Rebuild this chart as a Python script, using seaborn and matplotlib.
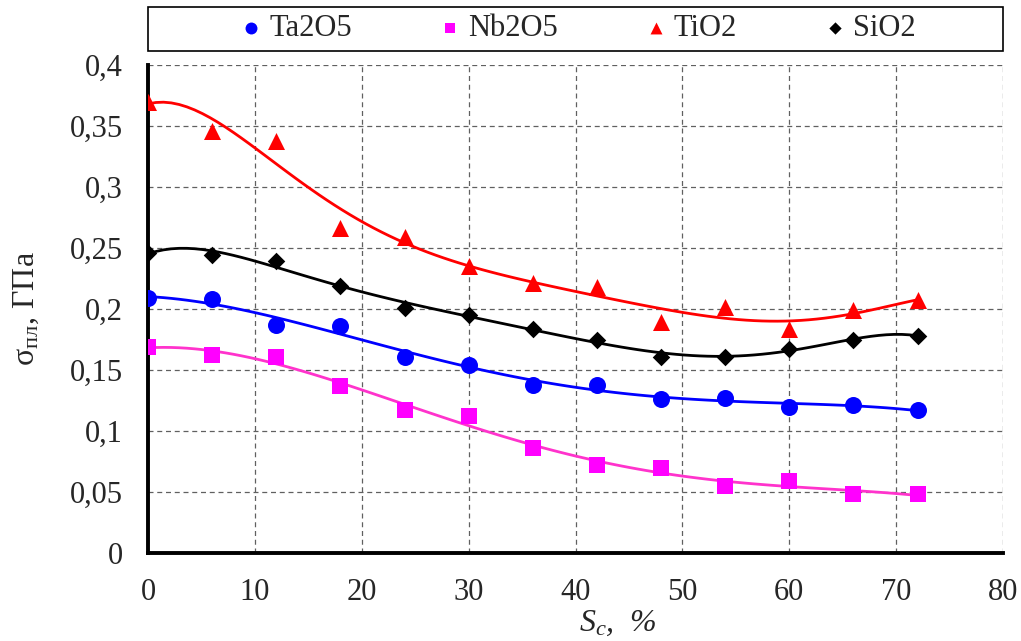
import numpy as np
import pandas as pd
import seaborn as sns
import matplotlib.pyplot as plt
from matplotlib.patches import Rectangle

sc = [0, 6, 12, 18, 24, 30, 36, 42, 48, 54, 60, 66, 72]
ta2o5 = [0.209, 0.208, 0.187, 0.186, 0.161, 0.154, 0.138, 0.138, 0.126, 0.127, 0.120, 0.121, 0.117]
nb2o5 = [0.169, 0.162, 0.161, 0.137, 0.117, 0.112, 0.086, 0.072, 0.070, 0.055, 0.059, 0.048, 0.048]
tio2 = [0.370, 0.346, 0.338, 0.266, 0.259, 0.235, 0.221, 0.218, 0.189, 0.202, 0.184, 0.199, 0.207]
sio2 = [0.246, 0.244, 0.239, 0.219, 0.201, 0.195, 0.184, 0.175, 0.161, 0.161, 0.167, 0.175, 0.178]

names = ['Ta2O5', 'Nb2O5', 'TiO2', 'SiO2']
colors = ['#0000ff', '#ff00ff', '#ff0000', '#000000']
line_colors = ['#0000ff', '#ff33cc', '#ff0000', '#000000']
markers = ['o', 's', '^', 'D']
msizes = [150, 120, 150, 80]
orders = [4, 4, 6, 6]  # polynomial trendline order

df = pd.DataFrame({'Sc': sc, 'Ta2O5': ta2o5, 'Nb2O5': nb2o5, 'TiO2': tio2, 'SiO2': sio2})

sns.set_style("white")
plt.rcParams['font.family'] = 'serif'
plt.rcParams['font.serif'] = ['Liberation Serif', 'Times New Roman', 'DejaVu Serif']
plt.rcParams['mathtext.fontset'] = 'custom'
plt.rcParams['mathtext.rm'] = 'Liberation Serif'
plt.rcParams['mathtext.it'] = 'Liberation Serif:italic'

fig = plt.figure(figsize=(10.21, 6.41), dpi=100)
ax = fig.add_axes([148 / 1021, 1 - 553 / 641, 855 / 1021, 488 / 641])

for name, c, lc, m, s, o in zip(names, colors, line_colors, markers, msizes, orders):
    sns.regplot(data=df, x='Sc', y=name, order=o, ci=None, ax=ax,
                marker=m, label=name,
                scatter_kws=dict(s=s, color=c, linewidths=0, alpha=1, zorder=4),
                line_kws=dict(color=lc, lw=2, zorder=3))

ax.set_xlim(0, 80)
ax.set_ylim(0, 0.4)
ax.set_xticks(range(0, 81, 10))
yt = np.arange(0, 0.401, 0.05)
ax.set_yticks(yt)
ax.set_yticklabels([('%g' % round(v, 2)).replace('.', ',') for v in yt])
ax.tick_params(direction='inout', length=14, width=2.5, labelsize=22, color='black', pad=11)

ax.grid(True, linestyle=(0, (4, 3)), color='#606060', linewidth=0.9)
for side in ['top', 'right']:
    ax.spines[side].set_visible(False)
for side in ['left', 'bottom']:
    ax.spines[side].set_linewidth(2.8)
    ax.spines[side].set_color('black')

ax.set_ylabel('$\\mathrm{σ}_{\\mathrm{пл}}$, ГПа', fontsize=23)
ax.yaxis.set_label_coords(-0.125, 0.5)
ax.set_xlabel('$S_c$,  %', fontsize=23, style='italic')
ax.xaxis.set_label_coords(0.549, -0.115)

# legend frame spans the plot width
fig.patches.append(Rectangle((148 / 1021, 1 - 51 / 641), 855 / 1021, 44 / 641,
                             transform=fig.transFigure, fill=False,
                             edgecolor='black', linewidth=1.2))
handles, labels = ax.get_legend_handles_labels()
leg = fig.legend(handles[:4], labels[:4], loc='center', bbox_to_anchor=(0.567, 1 - 29 / 641),
                 ncol=4, frameon=False, fontsize=22, columnspacing=2.9,
                 handlelength=0.6, handletextpad=0.3, markerscale=0.7)

fig.savefig('out.png', dpi=100)
